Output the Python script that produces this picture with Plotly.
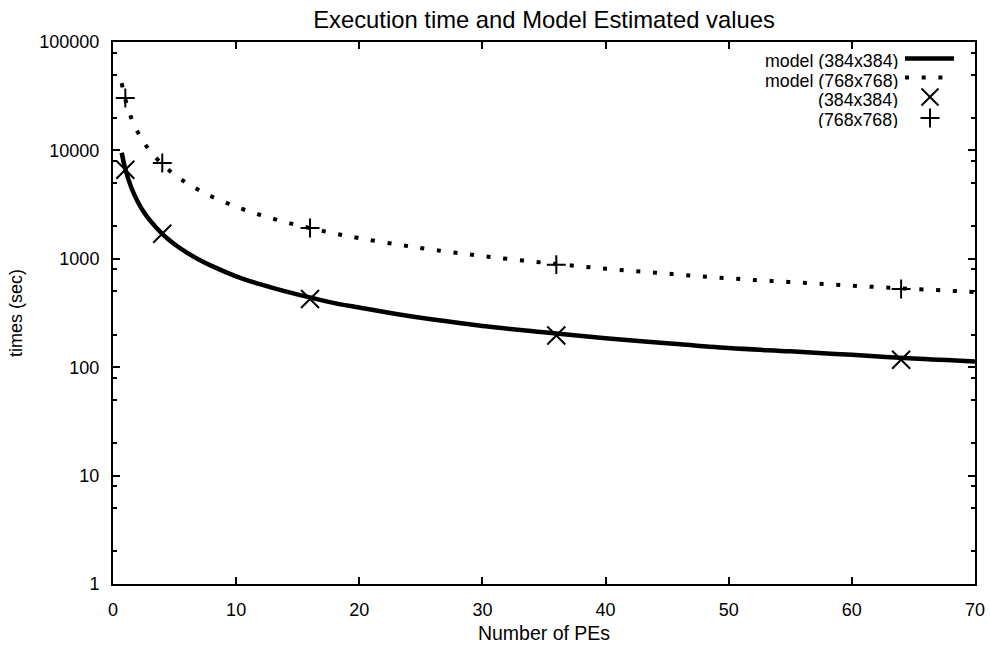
import plotly.graph_objects as go

# ---- data ----
model_pes = [0.707, 1, 1.5, 2, 2.5, 3, 4, 5, 6, 7, 8, 10, 12, 14, 16, 18, 20, 23, 26,
             30, 35, 40, 45, 50, 55, 60, 65, 70]
model_384 = [9520, 6740, 4500, 3380, 2700, 2260, 1700, 1360, 1140, 980, 860, 690, 580,
             500, 440, 390, 355, 310, 275, 240, 210, 185, 166, 150, 140, 130, 120, 113]
model_768 = [41800, 29600, 19700, 14800, 11900, 9900, 7450, 5970, 4990, 4290, 3760, 3020,
             2530, 2180, 1920, 1710, 1550, 1360, 1210, 1060, 920, 810, 730, 660, 610, 565,
             527, 494]
meas_pes = [1, 4, 16, 36, 64]
meas_384 = [6640, 1705, 426, 196, 117]
meas_768 = [30400, 7650, 1923, 883, 526]

y_tickvals = [1, 10, 100, 1000, 10000, 100000]
y_ticktext = ["1", "10", "100", "1000", "10000", "100000"]
y_minor = [m * 10 ** k for k in range(5) for m in (2, 5, 8)]

legend_labels = ["model (384x384)", "model (768x768)", "(384x384)", "(768x768)"]

FONT = "Liberation Sans, Arial, sans-serif"
W, H = 990, 647
L, R, T, B = 113, 15, 42, 63
PW, PH = W - L - R, H - T - B


def px(x):
    return (x - L) / PW


def py(y):
    return (H - B - y) / PH


fig = go.Figure()
fig.add_trace(go.Scatter(x=model_pes, y=model_384, mode="lines", line_shape="spline",
                         line=dict(color="black", width=4.5), showlegend=False))
fig.add_trace(go.Scatter(x=model_pes, y=model_768, mode="lines", line_shape="spline",
                         line=dict(color="black", width=4, dash="4px,12.7px"),
                         showlegend=False))
fig.add_trace(go.Scatter(x=meas_pes, y=meas_384, mode="markers",
                         marker=dict(symbol="x-thin", size=18,
                                     line=dict(color="black", width=2)),
                         showlegend=False))
fig.add_trace(go.Scatter(x=meas_pes, y=meas_768, mode="markers",
                         marker=dict(symbol="cross-thin", size=13.5,
                                     line=dict(color="black", width=2)),
                         showlegend=False))

# ---- gnuplot-style key (text right-aligned, sample to the right) ----
text_y = [61, 80.5, 100, 119.5]
sample_y = [58.5, 77.5, 97, 118]
for lab, ty in zip(legend_labels, text_y):
    fig.add_annotation(x=px(899), y=py(ty), xref="paper", yref="paper", text=lab,
                       showarrow=False, xanchor="right", yanchor="middle", height=16,
                       borderpad=0, valign="middle",
                       font=dict(family=FONT, size=17.8, color="black"))
fig.add_shape(type="line", xref="paper", yref="paper", x0=px(905), x1=px(954),
              y0=py(sample_y[0]), y1=py(sample_y[0]), line=dict(color="black", width=4.5))
fig.add_shape(type="line", xref="paper", yref="paper", x0=px(905), x1=px(944),
              y0=py(sample_y[1]), y1=py(sample_y[1]),
              line=dict(color="black", width=4, dash="4px,12.7px"))
cx = 930
h = 8.5
fig.add_shape(type="line", xref="paper", yref="paper", x0=px(cx - h), x1=px(cx + h),
              y0=py(sample_y[2] - h), y1=py(sample_y[2] + h), line=dict(color="black", width=2))
fig.add_shape(type="line", xref="paper", yref="paper", x0=px(cx - h), x1=px(cx + h),
              y0=py(sample_y[2] + h), y1=py(sample_y[2] - h), line=dict(color="black", width=2))
h2 = 9.5
fig.add_shape(type="line", xref="paper", yref="paper", x0=px(cx - h2), x1=px(cx + h2),
              y0=py(sample_y[3]), y1=py(sample_y[3]), line=dict(color="black", width=2))
fig.add_shape(type="line", xref="paper", yref="paper", x0=px(cx), x1=px(cx),
              y0=py(sample_y[3] - h2), y1=py(sample_y[3] + h2), line=dict(color="black", width=2))

fig.update_layout(
    width=W, height=H,
    margin=dict(l=L, r=R, t=T, b=B, autoexpand=False),
    paper_bgcolor="white", plot_bgcolor="white",
    font=dict(family=FONT, size=18, color="black"),
    title=dict(text="Execution time and Model Estimated values", x=(L + PW / 2) / W,
               xanchor="center", y=1 - 20 / H, yanchor="middle",
               font=dict(family=FONT, size=23.8, color="black")),
    showlegend=False,
)
fig.update_xaxes(
    range=[0, 70], dtick=10, tick0=0, showgrid=False, zeroline=False,
    showline=True, linecolor="black", linewidth=2, mirror="ticks",
    ticks="inside", ticklen=7, tickwidth=2, tickcolor="black",
    ticklabelstandoff=8,
    title=dict(text="Number of PEs", standoff=8, font=dict(family=FONT, size=19.5)),
)
fig.update_yaxes(
    type="log", range=[0, 5], tickvals=y_tickvals, ticktext=y_ticktext,
    showgrid=False, zeroline=False,
    showline=True, linecolor="black", linewidth=2, mirror="ticks",
    ticks="inside", ticklen=7, tickwidth=2, tickcolor="black",
    ticklabelstandoff=8,
    minor=dict(tickvals=y_minor, ticks="inside", ticklen=4, tickwidth=1.5,
               tickcolor="black", showgrid=False),
    title=dict(text="times (sec)", standoff=12, font=dict(family=FONT, size=18)),
)

fig.write_html("out.html")
